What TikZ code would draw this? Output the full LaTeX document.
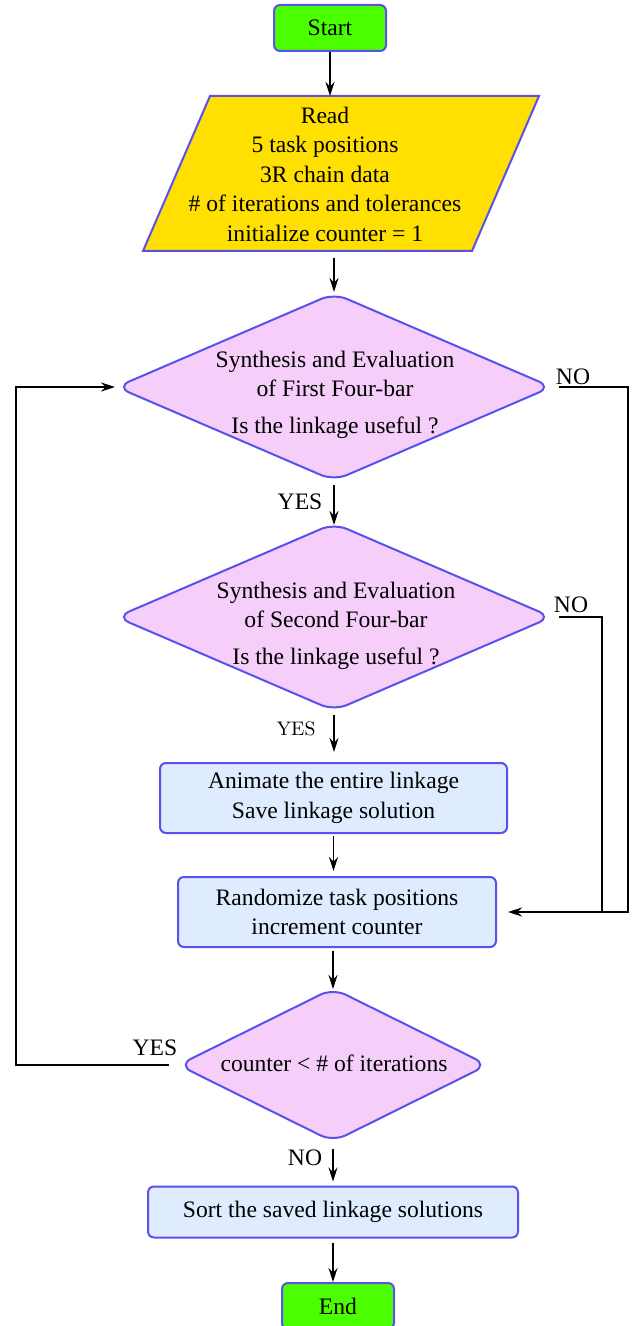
\documentclass[tikz,border=0pt]{standalone}
\usepackage{fontspec}
\setmainfont{Liberation Serif}
\newfontfamily\lmfont{Latin Modern Roman}
\usetikzlibrary{shapes.geometric,arrows.meta,calc}
\definecolor{bordc}{RGB}{90,80,240}
\definecolor{termg}{RGB}{76,255,0}
\definecolor{goldc}{RGB}{255,224,0}
\definecolor{diap}{RGB}{245,206,250}
\definecolor{procb}{RGB}{223,235,255}
\begin{document}
\begin{tikzpicture}[x=0.5pt,y=-0.5pt,
  every node/.style={font=\fontsize{11.8}{14.75}\selectfont},
  bbox/.style={draw=bordc,line width=1pt,rounded corners=3pt,align=center,inner sep=0pt},
  term/.style={bbox,fill=termg,minimum width=56pt,minimum height=23pt},
  proc/.style={bbox,fill=procb,minimum height=35pt},
  dia/.style={diamond,draw=bordc,line width=1pt,fill=diap,rounded corners=7pt,inner sep=0pt},
  txt/.style={align=center,inner sep=0pt},
  conn/.style={line width=0.6pt},
  arr/.style={conn,-{Stealth[length=7pt,width=4.5pt]}}]
\useasboundingbox (0,0) rectangle (631,1326);

% Start
\node[term] (start) at (330,28) {Start};

% Read parallelogram
\draw[draw=bordc,line width=1pt,fill=goldc] (210,96) -- (539,96) -- (472,251) -- (143,251) -- cycle;
\coordinate (paraT) at (330,96);
\coordinate (paraB) at (333,251);
\node[txt] (read) at (325,174) {Read\\5 task positions\\3R chain data\\\# of iterations and tolerances\\initialize counter = 1};

% Diamond 1
\node[dia,minimum width=218pt,minimum height=94pt] (d1) at (334,387) {};
\node[txt] (d1t) at (335,395) {Synthesis and Evaluation\\of First Four-bar\\[3.75pt]Is the linkage useful ?};

% Diamond 2
\node[dia,minimum width=218pt,minimum height=94pt] (d2) at (334,617) {};
\node[txt] (d2t) at (336,626) {Synthesis and Evaluation\\of Second Four-bar\\[3.75pt]Is the linkage useful ?};

% Boxes
\node[proc,minimum width=173.5pt] (b1) at (333.5,798) {Animate the entire linkage\\Save linkage solution};
\node[proc,minimum width=159pt] (b2) at (337,912) {Randomize task positions\\increment counter};

% Diamond 3
\node[dia,minimum width=155pt,minimum height=77pt] (d3) at (333,1065) {};
\node[txt] (d3t) at (334,1063) {counter < \# of iterations};

% Sort box and End
\node[bbox,fill=procb,minimum width=185pt,minimum height=25.5pt] (b3) at (333,1212) {Sort the saved linkage solutions};
\node[term] (end) at (338,1306) {End};

% Labels
\node[txt] (no1) at (573,377) {NO};
\node[txt] (no2) at (571,605) {NO};
\node[txt] (yes1) at (300,502) {YES};
\node[txt,font=\lmfont\fontsize{9.8}{12}\selectfont] (yes2) at (296,729) {YES};
\node[txt] (yes3) at (155,1048) {YES};
\node[txt] (no3) at (305,1158) {NO};

% Helper coordinates
\coordinate (r1) at (628,387);
\coordinate (r2) at (602,617);
\coordinate (l1) at (16,387);

% Vertical connectors
\draw[arr] (start.south) -- (start.south |- paraT);
\draw[arr] (d1.north |- paraB) ++(0,7) -- (d1.north);
\draw[arr] ([yshift=-1.5pt]d1.south) -- ([yshift=-1.5pt]d2.north);
\draw[arr,shorten >=5pt] ([yshift=-1.5pt]d2.south) -- (d2.south |- b1.north);
\draw[arr,shorten >=2.5pt] ([yshift=-1pt]b1.south) -- (b1.south |- b2.north);
\draw[arr] (d3.north |- b2.south) ++(0,3) -- ([yshift=-1pt]d3.north);
\draw[arr,shorten >=2pt] ([yshift=-3pt]d3.south) -- (b3.north);
\draw[arr] ([yshift=-2pt]b3.south) -- (b3.south |- end.north);

% NO loops
\draw[arr,shorten >=5.5pt] ([xshift=3pt]d1.east) -- (r1) |- (b2.east);
\draw[conn] ([xshift=3pt]d2.east) -- (r2) -- (r2 |- b2.east);

% YES loop back
\draw[arr] ([xshift=-4pt]d3.west) -| (l1) -- (d1.west);
\end{tikzpicture}
\end{document}
